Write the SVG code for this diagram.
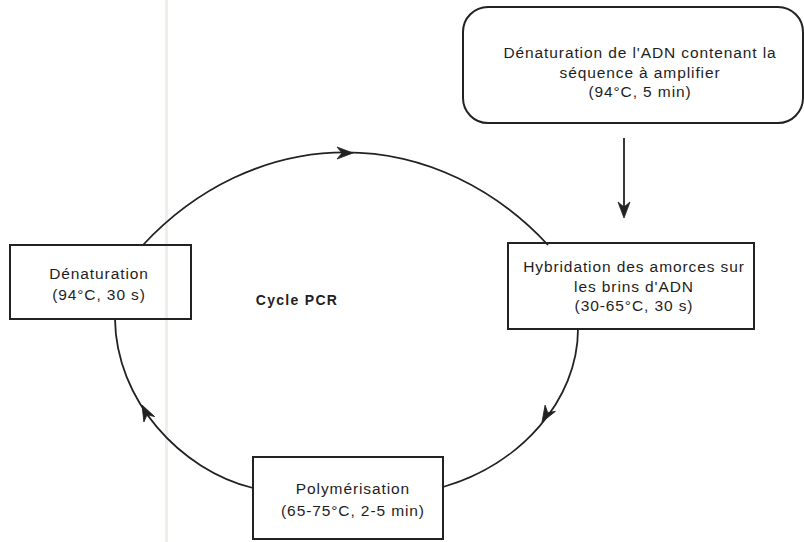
<svg xmlns="http://www.w3.org/2000/svg" width="804" height="542" viewBox="0 0 804 542">
<style>
.box{fill:none;stroke:#222;stroke-width:2}
.lbl{font-family:"Liberation Sans",Arial,sans-serif;font-size:15.5px;letter-spacing:0.9px;fill:#1e1e1e;text-anchor:middle}
.title{font-family:"Liberation Sans",Arial,sans-serif;font-size:14px;font-weight:bold;letter-spacing:1.3px;fill:#222;text-anchor:middle}
.con{fill:none;stroke:#222;stroke-width:1.8}
.head{fill:#222;stroke:#222;stroke-width:0.8;stroke-linejoin:miter}
</style>
<defs>
<path id="ah" d="M0,0 L-16,-6 L-11,0 L-16,6 Z"/>
</defs>
<rect x="0" y="0" width="804" height="542" fill="#ffffff"/>
<rect x="165" y="0" width="3" height="542" fill="#f1ede9"/>
<g id="connectors">
<path class="con" d="M143,245 A301,356 0 0,1 548,245"/>
<use href="#ah" class="head" transform="translate(353,153)"/>
<path class="con" d="M578,329 C578,400 520,465 443,487"/>
<use href="#ah" class="head" transform="translate(542,422) rotate(121)"/>
<path class="con" d="M253,488 C180,470 116,400 115,319"/>
<use href="#ah" class="head" transform="translate(142,405) rotate(-117)"/>
<path class="con" d="M624,138 L624,216"/>
<use href="#ah" class="head" transform="translate(624,218) rotate(90)"/>
</g>
<g id="start">
<rect class="box" x="463" y="7" width="340" height="116" rx="25" ry="25"/>
<text class="lbl" x="640" y="58">Dénaturation de l'ADN contenant la</text>
<text class="lbl" x="640" y="78">séquence à amplifier</text>
<text class="lbl" x="640" y="97">(94°C, 5 min)</text>
</g>
<g id="denaturation">
<rect class="box" x="10" y="245" width="181" height="74"/>
<text class="lbl" x="99" y="279">Dénaturation</text>
<text class="lbl" x="99" y="300">(94°C, 30 s)</text>
</g>
<g id="hybridation">
<rect class="box" x="508" y="243" width="246" height="86"/>
<text class="lbl" x="634" y="272">Hybridation des amorces sur</text>
<text class="lbl" x="634" y="292">les brins d'ADN</text>
<text class="lbl" x="634" y="311">(30-65°C, 30 s)</text>
</g>
<g id="polymerisation">
<rect class="box" x="253" y="457" width="190" height="82"/>
<text class="lbl" x="353" y="494">Polymérisation</text>
<text class="lbl" x="353" y="516">(65-75°C, 2-5 min)</text>
</g>
<g id="cycle">
<text class="title" x="297" y="305">Cycle PCR</text>
</g>
</svg>
